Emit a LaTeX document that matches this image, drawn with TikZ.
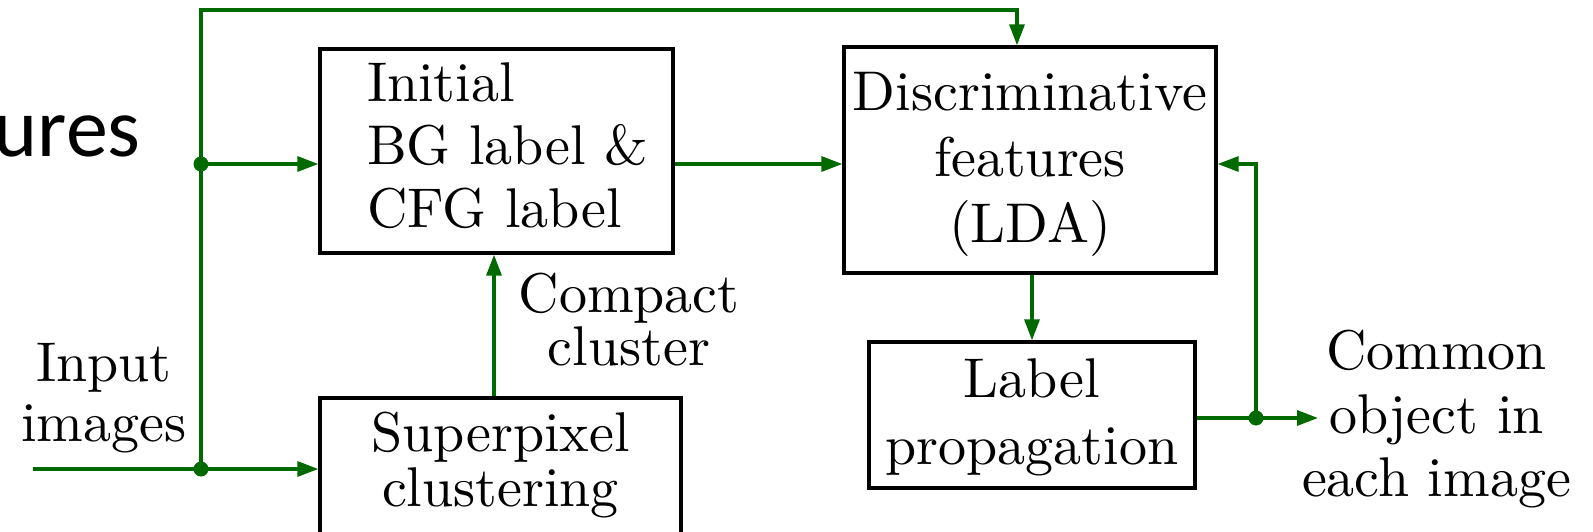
\documentclass[tikz,border=0pt]{standalone}
\usepackage{fontspec}
\setmainfont{lmroman10-regular.otf}
\newfontfamily\slidefont{Carlito}
\usetikzlibrary{arrows.meta}
\definecolor{flowgreen}{RGB}{0,105,0}
\begin{document}
\begin{tikzpicture}[x=1pt,y=-1pt,
  box/.style={draw=black, line width=3.3pt, inner sep=0pt, align=center},
  lbl/.style={inner sep=0pt, align=center},
  flow/.style={draw=flowgreen, line width=3.2pt, -{Triangle[length=21pt,width=15pt]}},
  wire/.style={draw=flowgreen, line width=3.2pt},
  junction/.style={circle, fill=flowgreen, inner sep=0pt, minimum size=15pt}]
\useasboundingbox (0,0) rectangle (1593,531);
\clip (0,0) rectangle (1593,531);

% slide text fragment
\node[anchor=base east, inner sep=0pt, font=\slidefont\fontsize{84}{90}\selectfont] (ures) at (141,156) {ures};

% boxes
\node[box, font=\fontsize{56}{63}\selectfont, text width=330pt, align=left,
      minimum width=353pt, minimum height=204pt] (init) at (496.5,151)
  {\hspace*{35.5pt}Initial\\\hspace*{35.5pt}BG label \&\\\hspace*{35.5pt}CFG label\rule[-11pt]{0pt}{11pt}};
\node[box, font=\fontsize{56}{66}\selectfont, minimum width=372pt, minimum height=226pt] (disc) at (1030,160)
  {\rule{0pt}{46pt}Discriminative\\features\\(LDA)};
\node[box, font=\fontsize{56}{55}\selectfont, minimum width=361pt, minimum height=182pt] (sp) at (500.5,489)
  {Superpixel\\clustering\rule[-58.5pt]{0pt}{58.5pt}};
\node[box, font=\fontsize{56}{67}\selectfont, minimum width=326pt, minimum height=146pt] (lab) at (1032,415)
  {\rule{0pt}{44pt}Label\\propagation};

% free labels
\node[lbl, font=\fontsize{56}{60}\selectfont] (input) at (104,398.4) {Input\\images};
\node[lbl, font=\fontsize{56}{53}\selectfont] (compact) at (629,319.8) {Compact\\cluster};
\node[lbl, font=\fontsize{56}{63.5}\selectfont] (out) at (1436.5,419.2) {Common\\object in\\each image};

% coordinates
\coordinate (j1) at (201,164);
\coordinate (j2) at (201,469);
\coordinate (src) at (33,469);
\coordinate (tl) at (201,10);
\coordinate (tr) at (1017,10);
\coordinate (cx) at (494,300);
\coordinate (j3) at (1256,418);
\coordinate (tip) at (1318,418);

% connectors
\draw[flow] (j2) -- (tl) -- (tr) -- (tr |- disc.north);
\draw[wire] (src) -- (j2);
\draw[flow] (j2) -- (j2 -| sp.west);
\draw[flow] (j1) -- (j1 -| init.west);
\draw[flow] (cx |- sp.north) -- (cx |- init.south);
\draw[flow] (init.east |- j1) -- (disc.west |- j1);
\draw[flow] (disc.south -| lab.north) -- (lab.north);
\draw[wire] (lab.east |- j3) -- (j3);
\draw[flow] (j3) -- (tip);
\draw[flow] (j3) |- (disc.east |- j1);

% junction dots
\node[junction] (d1) at (j1) {};
\node[junction] (d2) at (j2) {};
\node[junction] (d3) at (j3) {};
\end{tikzpicture}
\end{document}
